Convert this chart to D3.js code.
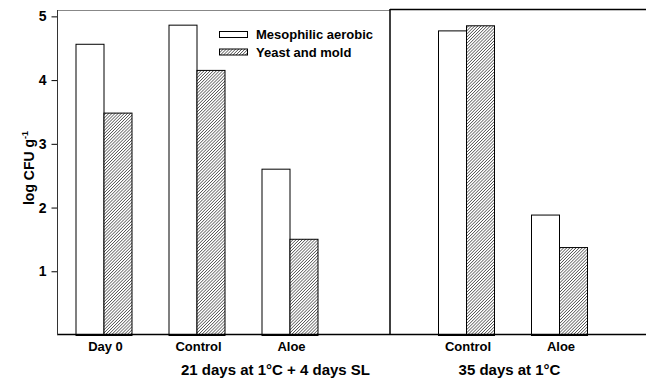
<!DOCTYPE html>
<html>
<head>
<meta charset="utf-8">
<script src="https://cdn.jsdelivr.net/npm/d3@7"></script>
<style>
  body { margin: 0; background: #fff; }
  svg text { font-family: Arial, "Liberation Sans", sans-serif; font-weight: bold; fill: #000; }
</style>
</head>
<body>
<div id="chart"></div>
<script>
// data
let panel1Cats = ["Day 0", "Control", "Aloe"];
let panel2Cats = ["Control", "Aloe"];
let seriesNames = ["Mesophilic aerobic", "Yeast and mold"];
let mesophilic1 = [4.57, 4.87, 2.61];
let yeast1 = [3.49, 4.16, 1.51];
let mesophilic2 = [4.78, 1.89];
let yeast2 = [4.86, 1.38];
let yTicks = [1, 2, 3, 4, 5];
let groupLabels = ["21 days at 1°C + 4 days SL", "35 days at 1°C"];

let svgWidth = 646, svgHeight = 379;
let plotLeft = 57, plotTop = 10, plotBottom = 335, divider = 390;

let svg = d3.select("#chart").append("svg")
    .attr("width", svgWidth)
    .attr("height", svgHeight);

// hatch pattern
let defs = svg.append("defs");
defs.append("pattern")
    .attr("id", "hatch")
    .attr("patternUnits", "userSpaceOnUse")
    .attr("width", 2.2)
    .attr("height", 2.2)
    .attr("patternTransform", "rotate(45)")
    .call(p => {
        p.append("rect").attr("width", 2.2).attr("height", 2.2).attr("fill", "#fff");
        p.append("line").attr("x1", 0).attr("y1", 0).attr("x2", 0).attr("y2", 2.2)
            .attr("stroke", "#000").attr("stroke-width", 1);
    });

let y = d3.scaleLinear().domain([0, 5.1]).range([plotBottom, plotTop]);

let x1 = d3.scaleBand().domain(panel1Cats).range([plotLeft, plotLeft + 279]);
let x2 = d3.scaleBand().domain(panel2Cats).range([419.5, 605.5]);
let xs = d3.scaleBand().domain(seriesNames).range([-28, 28]);

function drawPanel(cats, xScale, meso, yeast){
    let rows = cats.map((c, i) => ({cat: c, vals: [meso[i], yeast[i]]}));
    let g = svg.append("g");
    let grp = g.selectAll("g").data(rows).enter().append("g")
        .attr("transform", d => "translate(" + (xScale(d.cat) + xScale.bandwidth() / 2) + ",0)");
    grp.selectAll("rect")
        .data(d => d.vals.map((v, i) => ({name: seriesNames[i], v: v})))
        .enter().append("rect")
        .attr("x", d => xs(d.name) + 0.5)
        .attr("width", xs.bandwidth())
        .attr("y", d => y(d.v) + 0.5)
        .attr("height", d => y(0) - y(d.v))
        .attr("fill", (d, i) => i === 0 ? "#fff" : "url(#hatch)")
        .attr("stroke", "#000")
        .attr("stroke-width", 1);

    // category labels
    g.selectAll("text.cat").data(cats).enter().append("text")
        .attr("class", "cat")
        .attr("x", d => xScale(d) + xScale.bandwidth() / 2 + 2)
        .attr("y", 351)
        .attr("text-anchor", "middle")
        .attr("font-size", "13px")
        .text(d => d);
}

drawPanel(panel1Cats, x1, mesophilic1, yeast1);
drawPanel(panel2Cats, x2, mesophilic2, yeast2);

// frame
svg.append("line").attr("x1", plotLeft).attr("x2", divider).attr("y1", plotTop + 0.5).attr("y2", plotTop + 0.5)
    .attr("stroke", "#888").attr("stroke-width", 1);
svg.append("line").attr("x1", divider).attr("x2", svgWidth).attr("y1", plotTop - 0.5).attr("y2", plotTop - 0.5)
    .attr("stroke", "#000").attr("stroke-width", 1.3);
svg.append("line").attr("x1", divider).attr("x2", divider).attr("y1", plotTop - 1).attr("y2", plotBottom)
    .attr("stroke", "#000").attr("stroke-width", 1.5);
svg.append("line").attr("x1", plotLeft).attr("x2", svgWidth).attr("y1", plotBottom - 0.5).attr("y2", plotBottom - 0.5)
    .attr("stroke", "#000").attr("stroke-width", 1.3);

// y axis
let yAxis = d3.axisLeft(y).tickValues(yTicks).tickSize(6).tickPadding(5).tickFormat(d3.format("d"));
let ya = svg.append("g").attr("transform", "translate(" + (plotLeft + 0.5) + ",0)").call(yAxis);
ya.select(".domain").remove();
ya.selectAll(".tick line").attr("stroke", "#000");
ya.selectAll(".tick text").attr("font-size", "14px").attr("font-family", "Arial, 'Liberation Sans', sans-serif")
    .attr("font-weight", "bold").attr("fill", "#000");
svg.append("line").attr("x1", plotLeft + 0.5).attr("x2", plotLeft + 0.5).attr("y1", plotTop).attr("y2", plotBottom)
    .attr("stroke", "#333").attr("stroke-width", 1);

// y label
let yl = svg.append("text")
    .attr("transform", "translate(34,168) rotate(-90)")
    .attr("text-anchor", "middle")
    .attr("font-size", "14px");
yl.append("tspan").text("log CFU g");
yl.append("tspan").attr("font-size", "9px").attr("dy", -6).text("-1");

// group labels
svg.append("text").attr("x", 275.5).attr("y", 375).attr("text-anchor", "middle")
    .attr("font-size", "15px").text(groupLabels[0]);
svg.append("text").attr("x", 509.5).attr("y", 375).attr("text-anchor", "middle")
    .attr("font-size", "15px").text(groupLabels[1]);

// legend
let leg = svg.append("g").attr("transform", "translate(219,31)");
leg.selectAll("rect").data(seriesNames).enter().append("rect")
    .attr("x", 0.5)
    .attr("y", (d, i) => i * 17.5 + 0.5)
    .attr("width", 28)
    .attr("height", 6)
    .attr("fill", (d, i) => i === 0 ? "#fff" : "url(#hatch)")
    .attr("stroke", "#000");
leg.selectAll("text").data(seriesNames).enter().append("text")
    .attr("x", 37)
    .attr("y", (d, i) => i * 17.5 + 8)
    .attr("font-size", "13px")
    .text(d => d);
</script>
</body>
</html>
